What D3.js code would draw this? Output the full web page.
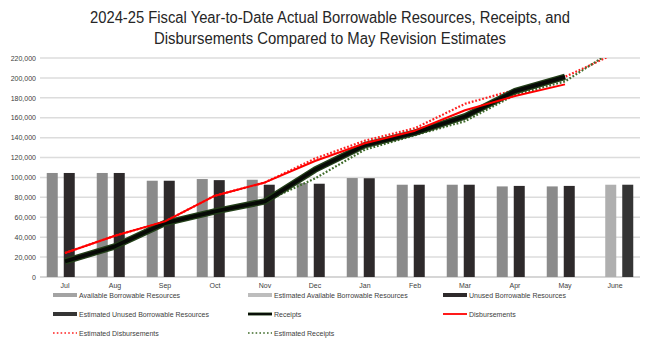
<!DOCTYPE html>
<html>
<head>
<meta charset="utf-8">
<script src="https://cdn.jsdelivr.net/npm/d3@7"></script>
<style>
  html, body { margin: 0; padding: 0; background: #fff; }
  svg { display: block; font-family: "Liberation Sans", Arial, sans-serif; }
  .axis text { fill: #404040; }
</style>
</head>
<body>
<div id="chart"></div>
<script>

/**
 * Data
 */

const months = ['Jul', 'Aug', 'Sep', 'Oct', 'Nov', 'Dec', 'Jan', 'Feb', 'Mar', 'Apr', 'May', 'June'];

const availableResources    = [104500, 104500, 96700, 98400, 97700, 94400, 99400, 92700, 92700, 91000, 91000, null];
const estAvailableResources = [null, null, null, null, null, null, null, null, null, null, null, 92700];
const unusedResources       = [104500, 104500, 96700, 97300, 92700, 93700, 99200, 92700, 92700, 91500, 91500, null];
const estUnusedResources    = [null, null, null, null, null, null, null, null, null, null, null, 92700];

const receipts         = [15700, 30800, 54200, 65900, 76000, 107800, 132500, 145000, 161300, 186800, 201000, null];
const disbursements    = [24100, 41500, 55900, 81700, 95000, 116500, 134300, 147000, 167500, 181800, 193500, null];
const estDisbursements = [24100, 41500, 55900, 81700, 95000, 119000, 137000, 149500, 174000, 188000, 201000, 224500];
const estReceipts      = [15700, 30800, 54200, 65900, 76000, 99000, 128000, 142500, 156500, 183000, 196500, 228500];

const yTicks = d3.range(0, 220001, 20000);

const titleLines = [
  '2024-25 Fiscal Year-to-Date Actual Borrowable Resources, Receipts, and',
  'Disbursements Compared to May Revision Estimates',
];


/**
 * Setup
 */

const width = 650;
const height = 349;
const plot = { left: 40, right: 640, top: 58, bottom: 277 };

const svg = d3.select('#chart')
              .append('svg')
              .attr('width', width)
              .attr('height', height);

const x = d3.scaleBand()
            .domain(months)
            .range([plot.left, plot.right]);

const y = d3.scaleLinear()
            .domain([0, 220000])
            .range([plot.bottom, plot.top]);

// four bar series share a group, overlapping like the Excel original
const barSeries = [
  { key: 'avail', values: availableResources, color: '#8b8b8b' },
  { key: 'estAvail', values: estAvailableResources, color: '#afafaf' },
  { key: 'unused', values: unusedResources, color: '#2e2a2b' },
  { key: 'estUnused', values: estUnusedResources, color: '#353535' },
];

const slot = d3.scalePoint()
               .domain(barSeries.map(s => s.key))
               .range([-18.25, 7.25]);

const barWidth = 11;
const center = m => x(m) + x.bandwidth() / 2;


/**
 * Title
 */

svg.append('g')
   .selectAll('text')
   .data(titleLines)
   .enter()
   .append('text')
   .attr('x', 330)
   .attr('y', (d, i) => 23 + i * 21)
   .attr('text-anchor', 'middle')
   .attr('font-size', 16)
   .attr('fill', '#262626')
   .attr('textLength', (d, i) => i === 0 ? 480 : 352)
   .attr('lengthAdjust', 'spacingAndGlyphs')
   .text(d => d);


/**
 * Grid and axes
 */

svg.append('g')
   .selectAll('line')
   .data(yTicks)
   .enter()
   .append('line')
   .attr('x1', plot.left)
   .attr('x2', plot.right)
   .attr('y1', d => y(d))
   .attr('y2', d => y(d))
   .attr('stroke', d => d === 0 ? '#c8c8c8' : '#dcdcdc')
   .attr('stroke-width', 1.5);

const yAxis = svg.append('g')
                 .attr('class', 'axis')
                 .attr('transform', `translate(${plot.left - 4},0)`)
                 .call(d3.axisLeft(y).tickValues(yTicks).tickSize(0).tickPadding(0).tickFormat(d3.format(',')));

yAxis.select('.domain').remove();
yAxis.selectAll('text')
     .attr('font-size', 7)
     .attr('font-family', '"Liberation Sans", Arial, sans-serif');

const xAxis = svg.append('g')
                 .attr('class', 'axis')
                 .attr('transform', `translate(0,${plot.bottom})`)
                 .call(d3.axisBottom(x).tickSize(0).tickPadding(6));

xAxis.select('.domain').remove();
xAxis.selectAll('text')
     .attr('font-size', 7)
     .attr('font-family', '"Liberation Sans", Arial, sans-serif');


/**
 * Bars
 */

barSeries.forEach(series => {
  svg.append('g')
     .selectAll('rect')
     .data(months.map((m, i) => ({ month: m, value: series.values[i] })).filter(d => d.value !== null))
     .enter()
     .append('rect')
     .attr('x', d => center(d.month) + slot(series.key))
     .attr('y', d => y(d.value))
     .attr('width', barWidth)
     .attr('height', d => y(0) - y(d.value))
     .attr('fill', series.color);
});


/**
 * Lines
 */

svg.append('clipPath')
   .attr('id', 'plot-clip')
   .append('rect')
   .attr('x', plot.left)
   .attr('y', plot.top)
   .attr('width', plot.right - plot.left)
   .attr('height', plot.bottom - plot.top);

const line = d3.line()
               .defined(d => d.value !== null)
               .x(d => center(d.month))
               .y(d => y(d.value));

const toPoints = values => months.map((m, i) => ({ month: m, value: values[i] }));

const lines = svg.append('g').attr('clip-path', 'url(#plot-clip)');

function drawLine(values, stroke, strokeWidth, dash) {
  lines.append('path')
       .datum(toPoints(values))
       .attr('fill', 'none')
       .attr('stroke', stroke)
       .attr('stroke-width', strokeWidth)
       .attr('stroke-dasharray', dash || null)
       .attr('stroke-linejoin', 'round')
       .attr('d', line);
}

// estimates sit underneath the actuals
drawLine(estDisbursements, '#ff1f1f', 2.2, '1.8,1.8');
drawLine(estReceipts, '#3f6b2a', 2.2, '1.8,1.8');
drawLine(receipts, '#24401a', 6.5);
drawLine(receipts, '#070a06', 3.8);
drawLine(disbursements, '#ff0000', 2);


/**
 * Legend
 */

const legendItems = [
  { label: 'Available Borrowable Resources', type: 'bar', color: '#a3a3a3' },
  { label: 'Estimated Available Borrowable Resources', type: 'bar', color: '#bdbdbd' },
  { label: 'Unused Borrowable Resources', type: 'bar', color: '#2e2a2b' },
  { label: 'Estimated Unused Borrowable Resources', type: 'bar', color: '#353535' },
  { label: 'Receipts', type: 'receipts', color: '#070a06' },
  { label: 'Disbursements', type: 'line', color: '#ff0000' },
  { label: 'Estimated Disbursements', type: 'dotted', color: '#ff1f1f' },
  { label: 'Estimated Receipts', type: 'dotted', color: '#3f6b2a' },
];

const legendCols = [53, 248, 443];
const legendRows = [295, 314, 333];

const legend = svg.append('g')
                  .selectAll('g')
                  .data(legendItems)
                  .enter()
                  .append('g')
                  .attr('transform', (d, i) => `translate(${legendCols[i % 3]},${legendRows[Math.floor(i / 3)]})`);

legend.each(function(d) {
  const g = d3.select(this);

  if (d.type === 'bar') {
    g.append('rect')
     .attr('x', 0)
     .attr('y', -2)
     .attr('width', 24)
     .attr('height', 4)
     .attr('fill', d.color);
  }
  else if (d.type === 'receipts') {
    g.append('line').attr('x1', 0).attr('x2', 24).attr('stroke', '#24401a').attr('stroke-width', 3);
    g.append('line').attr('x1', 0).attr('x2', 24).attr('stroke', d.color).attr('stroke-width', 1.8);
  }
  else {
    g.append('line')
     .attr('x1', 0)
     .attr('x2', 24)
     .attr('stroke', d.color)
     .attr('stroke-width', d.type === 'dotted' ? 1.6 : 1.8)
     .attr('stroke-dasharray', d.type === 'dotted' ? '1.6,2.2' : null);
  }

  g.append('text')
   .attr('x', 26)
   .attr('y', 2.5)
   .attr('font-size', 7)
   .attr('fill', '#404040')
   .text(d.label);
});

</script>
</body>
</html>
